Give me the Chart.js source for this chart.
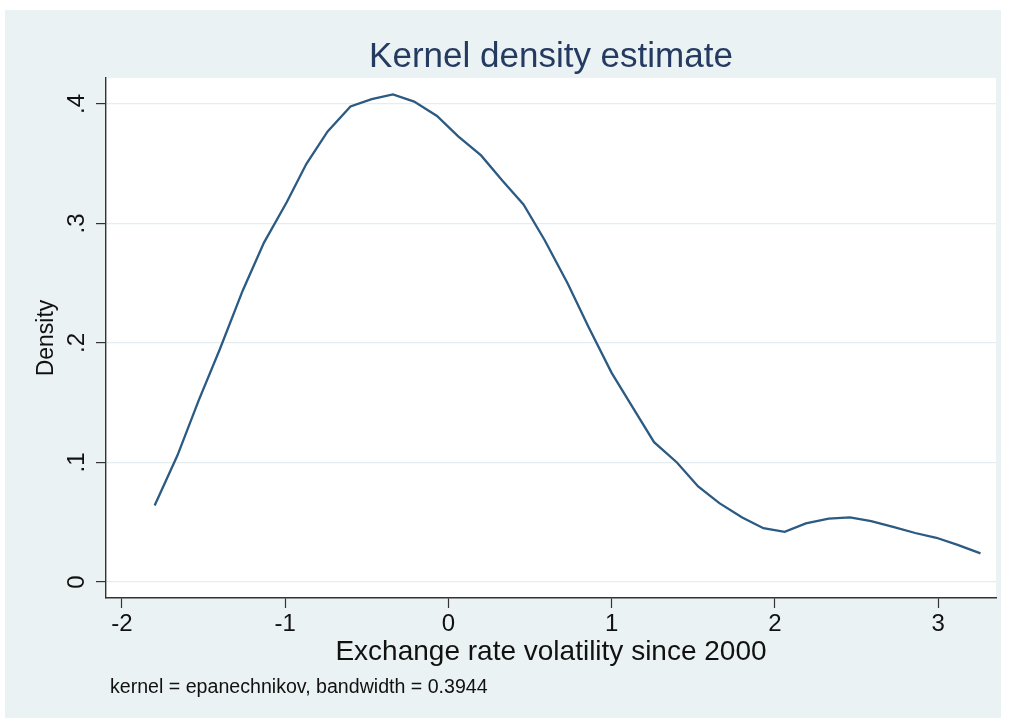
<!DOCTYPE html>
<html>
<head>
<meta charset="utf-8">
<script src="https://cdn.jsdelivr.net/npm/chart.js@4/dist/chart.umd.min.js"></script>
<style>
  html, body { margin: 0; padding: 0; background: #ffffff; }
  #wrap { width: 1011px; height: 718px; }
</style>
</head>
<body>
<div id="wrap"><canvas id="kde" width="1011" height="718"></canvas></div>
<script>
// Evaluation grid of the kernel density estimate and the estimated density
const volatility = [-1.80, -1.66, -1.53, -1.40, -1.26, -1.13, -0.99, -0.87, -0.74, -0.60,
                    -0.47, -0.34, -0.21, -0.07, 0.06, 0.20, 0.33, 0.46, 0.59, 0.73,
                    0.86, 1.00, 1.13, 1.26, 1.40, 1.53, 1.66, 1.80, 1.93, 2.06,
                    2.19, 2.33, 2.46, 2.59, 2.73, 2.86, 2.99, 3.12, 3.26];
const density = [0.064, 0.106, 0.152, 0.195, 0.244, 0.284, 0.318, 0.350, 0.377, 0.398,
                 0.404, 0.408, 0.402, 0.390, 0.373, 0.357, 0.336, 0.316, 0.286, 0.250,
                 0.213, 0.175, 0.146, 0.117, 0.100, 0.080, 0.066, 0.054, 0.045, 0.042,
                 0.049, 0.053, 0.054, 0.051, 0.046, 0.041, 0.037, 0.031, 0.024];

// Axis ticks and labels
const xTickValues = [-2, -1, 0, 1, 2, 3];
const xTickLabels = ['-2', '-1', '0', '1', '2', '3'];
const yTickValues = [0, 0.1, 0.2, 0.3, 0.4];
const yTickLabels = ['0', '.1', '.2', '.3', '.4'];

// Texts
const titleText = 'Kernel density estimate';
const xTitleText = 'Exchange rate volatility since 2000';
const yTitleText = 'Density';
const noteText = 'kernel = epanechnikov, bandwidth = 0.3944';

const FONT = "'Liberation Sans', Arial, Helvetica, sans-serif";
const points = volatility.map((v, i) => ({ x: v, y: density[i] }));

// Light bluish-gray graph region with a white plot region
const backdrop = {
  id: 'backdrop',
  beforeDraw(chart) {
    const { ctx, chartArea: a } = chart;
    ctx.save();
    ctx.fillStyle = '#ffffff';
    ctx.fillRect(0, 0, chart.width, chart.height);
    ctx.fillStyle = '#eaf2f3';
    ctx.fillRect(5, 10, 996, 708);
    ctx.fillStyle = '#ffffff';
    ctx.fillRect(a.left, a.top, a.right - a.left, a.bottom - a.top);
    ctx.restore();
  }
};

// Kernel / bandwidth note under the x-axis title
const note = {
  id: 'note',
  afterDraw(chart) {
    const { ctx } = chart;
    ctx.save();
    ctx.font = '19.6px ' + FONT;
    ctx.fillStyle = '#111111';
    ctx.textAlign = 'left';
    ctx.textBaseline = 'alphabetic';
    ctx.fillText(noteText, 110, 693);
    ctx.restore();
  }
};

new Chart(document.getElementById('kde'), {
  type: 'line',
  data: {
    datasets: [{
      data: points,
      borderColor: '#2b5a82',
      borderWidth: 2.3,
      pointRadius: 0,
      tension: 0,
      fill: false
    }]
  },
  options: {
    responsive: false,
    devicePixelRatio: 1,
    animation: false,
    events: [],
    layout: { padding: { top: 36, left: 0, right: 15, bottom: 0 } },
    plugins: {
      legend: { display: false },
      tooltip: { enabled: false },
      title: {
        display: true,
        text: titleText,
        fullSize: false,
        color: '#253a60',
        font: { family: FONT, size: 35, weight: 'normal', lineHeight: 1.2 },
        padding: { top: 0, bottom: 0 }
      }
    },
    scales: {
      x: {
        type: 'linear',
        min: -2.098,
        max: 3.355,
        afterBuildTicks: s => { s.ticks = xTickValues.map(v => ({ value: v })); },
        afterFit: s => { s.height = 120; },
        ticks: {
          color: '#111111',
          font: { family: FONT, size: 24 },
          padding: 2,
          maxRotation: 0,
          autoSkip: false,
          callback: (v) => xTickLabels[xTickValues.indexOf(v)]
        },
        grid: {
          drawOnChartArea: false,
          drawTicks: true,
          tickLength: 10,
          tickColor: '#333333',
          tickWidth: 1.2
        },
        border: { display: true, color: '#333333', width: 1.4 },
        title: {
          display: true,
          text: xTitleText,
          color: '#111111',
          font: { family: FONT, size: 28, lineHeight: 1.2 },
          padding: { top: 0, bottom: 49 }
        }
      },
      y: {
        type: 'linear',
        min: -0.01339,
        max: 0.42176,
        afterBuildTicks: s => { s.ticks = yTickValues.map(v => ({ value: v })); },
        afterFit: s => { s.width = 106; },
        ticks: {
          color: '#111111',
          font: { family: FONT, size: 24 },
          padding: 9,
          minRotation: 90,
          maxRotation: 90,
          crossAlign: 'center',
          autoSkip: false,
          callback: (v) => yTickLabels[yTickValues.indexOf(v)]
        },
        grid: {
          color: '#e4edf0',
          lineWidth: 1.2,
          drawTicks: true,
          tickLength: 10,
          tickColor: '#333333',
          tickWidth: 1.2
        },
        border: { display: true, color: '#333333', width: 1.4 },
        title: {
          display: true,
          text: yTitleText,
          color: '#111111',
          font: { family: FONT, size: 23, lineHeight: 1.2 },
          padding: { top: 33, bottom: 0 }
        }
      }
    }
  },
  plugins: [backdrop, note]
});
</script>
</body>
</html>
